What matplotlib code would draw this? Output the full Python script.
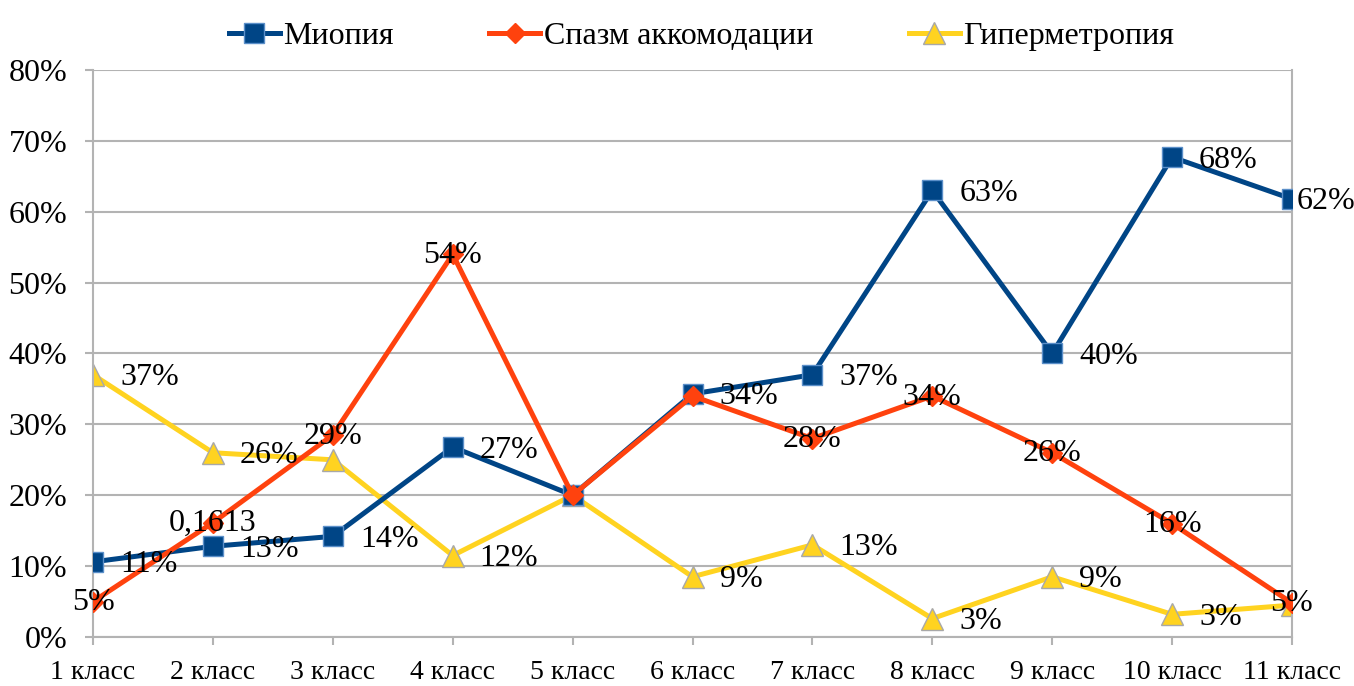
import matplotlib
matplotlib.use('Agg')
import matplotlib.pyplot as plt
from matplotlib.ticker import PercentFormatter

plt.rcParams['font.family'] = ['Liberation Serif', 'DejaVu Serif']

classes = ['1 класс', '2 класс', '3 класс', '4 класс', '5 класс', '6 класс',
           '7 класс', '8 класс', '9 класс', '10 класс', '11 класс']

myopia = [0.106, 0.128, 0.142, 0.268, 0.20, 0.343, 0.37, 0.63, 0.40, 0.677, 0.618]
spasm = [0.05, 0.1613, 0.285, 0.54, 0.20, 0.34, 0.28, 0.34, 0.26, 0.16, 0.048]
hyper = [0.37, 0.26, 0.25, 0.115, 0.20, 0.085, 0.13, 0.026, 0.085, 0.032, 0.045]

myopia_labels = ['11%', '13%', '14%', '27%', None, '34%', '37%', '63%', '40%', '68%', '62%']
spasm_labels = ['5%', '0,1613', '29%', '54%', None, None, '28%', '34%', '26%', '16%', '5%']
hyper_labels = ['37%', '26%', None, '12%', None, '9%', '13%', '3%', '9%', '3%', None]

blue = '#004586'
orange = '#ff420e'
yellow = '#ffd320'
grid = '#b3b3b3'
fs = 23

fig = plt.figure(figsize=(13.54, 6.86), dpi=100)
ax = fig.add_axes([0.0687, 0.0714, 0.8855, 0.8266])

x = range(len(classes))
ax.plot(x, myopia, color=blue, lw=3.6, marker='s', ms=14,
        mfc=blue, mec='#5b8fc9', mew=1, label='Миопия', zorder=3)
ax.plot(x, spasm, color=orange, lw=3.6, marker='D', ms=10,
        mfc=orange, mec=orange, label='Спазм аккомодации', zorder=4)
ax.plot(x, hyper, color=yellow, lw=3.6, marker='^', ms=16,
        mfc=yellow, mec='#a8a8a8', mew=1, label='Гиперметропия', zorder=2)

n = len(classes)
for i, t in enumerate(myopia_labels):
    if t:
        dx = 5 if i == n - 1 else 27
        ax.annotate(t, (i, myopia[i]), xytext=(dx, -3), textcoords='offset pixels',
                    ha='left', va='center', fontsize=fs, zorder=6, annotation_clip=False)
for i, t in enumerate(hyper_labels):
    if t:
        ax.annotate(t, (i, hyper[i]), xytext=(27, -3), textcoords='offset pixels',
                    ha='left', va='center', fontsize=fs, zorder=6)
for i, t in enumerate(spasm_labels):
    if t:
        ax.annotate(t, (i, spasm[i]), xytext=(0, -1), textcoords='offset pixels',
                    ha='center', va='center', fontsize=fs, zorder=6)

ax.set_xlim(0, n - 1)
ax.set_ylim(0, 0.8)
ax.set_yticks([i / 10 for i in range(9)])
ax.yaxis.set_major_formatter(PercentFormatter(1.0, decimals=0))
ax.set_xticks(list(x))
ax.set_xticklabels(classes)
ax.tick_params(axis='y', labelsize=fs, length=5.5, color=grid, width=1.5, pad=13)
ax.tick_params(axis='x', labelsize=20, length=5.5, color=grid, width=1.5, pad=11)
ax.grid(axis='y', color=grid, lw=1.5, zorder=0)
ax.grid(axis='x', visible=False)
for s in ['left', 'bottom', 'right']:
    ax.spines[s].set_color(grid)
    ax.spines[s].set_linewidth(1.5)
ax.spines['top'].set_visible(False)
ax.set_axisbelow(True)

fig.legend(loc='upper center', bbox_to_anchor=(0.518, 1.01), ncol=3, frameon=False,
           fontsize=fs, columnspacing=3.0, handlelength=1.6, handletextpad=0.1)

fig.savefig('out.png', dpi=100)
